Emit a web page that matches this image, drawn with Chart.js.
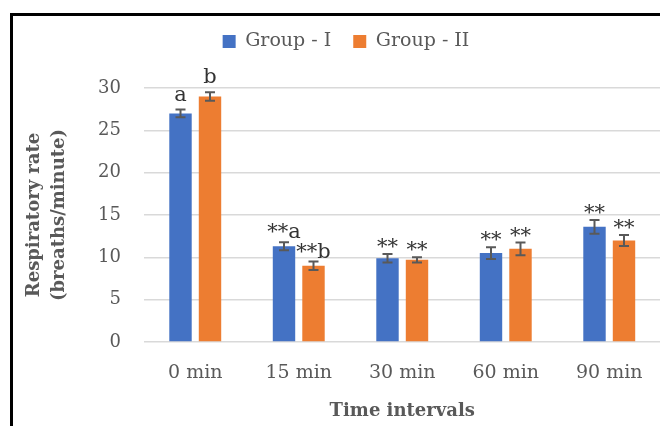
<!DOCTYPE html>
<html>
<head>
<meta charset="utf-8">
<script src="https://cdn.jsdelivr.net/npm/chart.js@4.4.1/dist/chart.umd.min.js"></script>
<style>
  html, body { margin: 0; padding: 0; background: #fff; overflow: hidden; width: 660px; height: 426px; }
  #wrap { position: relative; width: 660px; height: 426px; overflow: hidden; }
  #frame { position: absolute; left: 10px; top: 13px; width: 800px; height: 600px;
           border-left: 3px solid #000; border-top: 3px solid #000; box-sizing: border-box; }
  canvas { position: absolute; left: 0; top: 0; }
</style>
</head>
<body>
<div id="wrap">
  <div id="frame"></div>
  <canvas id="c" width="692" height="426"></canvas>
</div>
<script>
// ---- data ----
const categories = ['0 min', '15 min', '30 min', '60 min', '90 min'];
const group1 = [27.0, 11.3, 9.9, 10.5, 13.6];
const group1Err = [0.45, 0.47, 0.5, 0.7, 0.8];
const group2 = [29.0, 9.0, 9.7, 11.0, 12.0];
const group2Err = [0.5, 0.5, 0.3, 0.75, 0.65];
const group1Marks = ['a', '**a', '**', '**', '**'];
const group2Marks = ['b', '**b', '**', '**', '**'];
const yTicks = [0, 5, 10, 15, 20, 25, 30];

const FONT = "'DejaVu Serif', serif";
const GRAY = '#595959';

const legendSpace = {
  id: 'legendSpace',
  beforeInit(chart) {
    const orig = chart.legend.fit;
    chart.legend.fit = function () {
      orig.bind(chart.legend)();
      this.height += 27;
    };
  }
};

const errorAndMarks = {
  id: 'errorAndMarks',
  afterDatasetsDraw(chart) {
    const ctx = chart.ctx;
    const ys = chart.scales.y;
    chart.data.datasets.forEach((ds, di) => {
      const meta = chart.getDatasetMeta(di);
      meta.data.forEach((bar, i) => {
        const v = ds.data[i];
        const e = ds.errors[i];
        const x = bar.x;
        const yHi = ys.getPixelForValue(v + e);
        const yLo = ys.getPixelForValue(v - e);
        ctx.save();
        ctx.strokeStyle = GRAY;
        ctx.lineWidth = 2;
        ctx.beginPath();
        ctx.moveTo(x, yHi); ctx.lineTo(x, yLo);
        ctx.moveTo(x - 5, yHi); ctx.lineTo(x + 5, yHi);
        ctx.moveTo(x - 5, yLo); ctx.lineTo(x + 5, yLo);
        ctx.stroke();
        const m = ds.marks[i];
        if (m) {
          const hasStar = m.indexOf('*') >= 0;
          const hasLetter = /[a-z]/.test(m);
          const off = hasStar ? (hasLetter ? 4 : 1) : 9;
          ctx.font = "21px " + FONT;
          ctx.fillStyle = '#333333';
          ctx.textAlign = 'center';
          ctx.textBaseline = 'alphabetic';
          ctx.fillText(m, x, yHi - off);
        }
        ctx.restore();
      });
    });
  }
};

new Chart(document.getElementById('c'), {
  type: 'bar',
  data: {
    labels: categories,
    datasets: [
      { label: 'Group - I', data: group1, errors: group1Err, marks: group1Marks,
        backgroundColor: '#4472C4', borderWidth: 0,
        categoryPercentage: 0.57, barPercentage: 0.76 },
      { label: 'Group - II', data: group2, errors: group2Err, marks: group2Marks,
        backgroundColor: '#ED7D31', borderWidth: 0,
        categoryPercentage: 0.57, barPercentage: 0.76 }
    ]
  },
  options: {
    responsive: false,
    animation: false,
    devicePixelRatio: 1,
    layout: { padding: { left: 31, right: 31, top: 10, bottom: 0 } },
    plugins: {
      legend: {
        position: 'top',
        labels: {
          boxWidth: 13, boxHeight: 13, padding: 22,
          color: GRAY, font: { family: FONT, size: 19 }
        }
      },
      tooltip: { enabled: false }
    },
    scales: {
      x: {
        grid: { display: false },
        border: { display: false },
        ticks: { color: GRAY, font: { family: FONT, size: 19 }, padding: 12 },
        title: { display: true, text: 'Time intervals', color: GRAY,
                 font: { family: FONT, size: 18, weight: 'bold' }, padding: { top: 0, bottom: 4 } },
        afterFit(scale) { scale.height = 84; }
      },
      y: {
        min: 0, max: 30,
        afterBuildTicks(scale) { scale.ticks = yTicks.map(v => ({ value: v })); },
        grid: { color: '#D9D9D9', lineWidth: 1.5, drawTicks: false },
        border: { display: false },
        ticks: { color: GRAY, font: { family: FONT, size: 18 }, padding: 22.5 },
        title: { display: true, text: ['Respiratory rate', '(breaths/minute)'], color: GRAY,
                 font: { family: FONT, size: 18, weight: 'bold', lineHeight: 1.39 },
                 padding: { top: -9.5, bottom: 0 } },
        afterFit(scale) { scale.width = 112.5; }
      }
    }
  },
  plugins: [legendSpace, errorAndMarks]
});
</script>
</body>
</html>
